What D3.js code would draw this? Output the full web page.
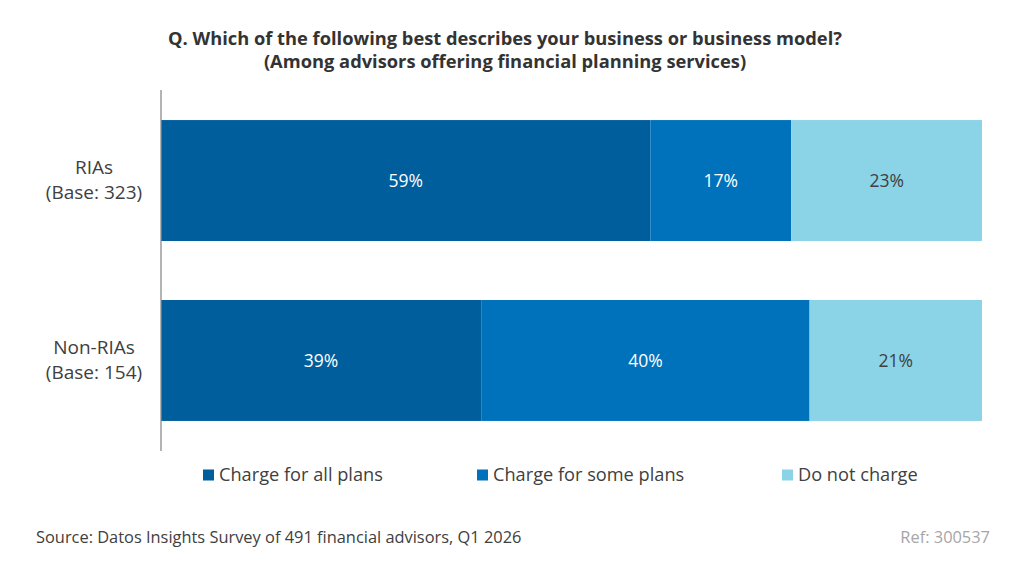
<!DOCTYPE html>
<html>
<head>
<meta charset="utf-8">
<script src="https://cdn.jsdelivr.net/npm/d3@7"></script>
<style>
  body { margin: 0; background: #fff; }
  svg text { font-family: "Open Sans", Lato, sans-serif; }
</style>
</head>
<body>
<div id="chart"></div>
<script>
// data
const groups = ["RIAs", "Non-RIAs"];
const bases = [323, 154];
const seriesNames = ["Charge for all plans", "Charge for some plans", "Do not charge"];
const allPlans = [59, 39];
const somePlans = [17, 40];
const noCharge = [23, 21];
const colors = ["#005e9c", "#0072bb", "#8bd3e6"];

const width = 1024, height = 569;
const margin = {top: 90, left: 161, right: 42, bottom: 118};

const svg = d3.select("#chart").append("svg")
    .attr("width", width)
    .attr("height", height);

/* title */
svg.append("text")
    .attr("x", 505).attr("y", 45)
    .attr("text-anchor", "middle")
    .attr("font-size", 18.3).attr("font-weight", "bold").attr("fill", "#333")
    .text("Q.  Which of the following best describes your business or business model?");
svg.append("text")
    .attr("x", 505).attr("y", 68)
    .attr("text-anchor", "middle")
    .attr("font-size", 18.3).attr("font-weight", "bold").attr("fill", "#333")
    .text("(Among advisors offering financial planning services)");

const rows = groups.map(function(g, i) {
    return {group: g, base: bases[i], values: [allPlans[i], somePlans[i], noCharge[i]]};
});

const xScale = d3.scaleLinear()
    .domain([0, 1])
    .range([margin.left, width - margin.right]);

const yScale = d3.scaleBand()
    .domain(groups)
    .range([margin.top, height - margin.bottom])
    .paddingInner(0.328)
    .paddingOuter(0.167);

/* each row is stacked against its own total */
const rowG = svg.selectAll(".row")
    .data(rows)
    .enter().append("g")
    .attr("class", "row");

rowG.each(function(d) {
    const total = d3.sum(d.values);
    let acc = 0;
    const segs = d.values.map(function(v, k) {
        const s = {v: v, k: k, x0: acc / total, x1: (acc + v) / total};
        acc += v;
        return s;
    });
    const g = d3.select(this);
    g.selectAll("rect")
        .data(segs)
        .enter().append("rect")
        .attr("x", function(s) { return xScale(s.x0); })
        .attr("width", function(s) { return xScale(s.x1) - xScale(s.x0); })
        .attr("y", yScale(d.group))
        .attr("height", yScale.bandwidth())
        .attr("fill", function(s) { return colors[s.k]; });
    g.selectAll("text.val")
        .data(segs)
        .enter().append("text")
        .attr("class", "val")
        .attr("x", function(s) { return (xScale(s.x0) + xScale(s.x1)) / 2; })
        .attr("y", yScale(d.group) + yScale.bandwidth() / 2)
        .attr("dy", "0.35em")
        .attr("text-anchor", "middle")
        .attr("font-size", 17.5)
        .attr("fill", function(s) { return s.k === 2 ? "#404040" : "#fff"; })
        .text(function(s) { return s.v + "%"; });
});

/* category labels */
const labels = svg.selectAll(".cat")
    .data(rows)
    .enter().append("text")
    .attr("class", "cat")
    .attr("text-anchor", "middle")
    .attr("font-size", 19)
    .attr("fill", "#404040")
    .attr("y", function(d) { return yScale(d.group) + yScale.bandwidth() / 2; });
labels.append("tspan")
    .attr("x", 94).attr("dy", "-0.32em")
    .text(function(d) { return d.group; });
labels.append("tspan")
    .attr("x", 94).attr("dy", "1.3em")
    .text(function(d) { return "(Base: " + d.base + ")"; });

/* axis line */
svg.append("line")
    .attr("x1", margin.left).attr("x2", margin.left)
    .attr("y1", margin.top).attr("y2", height - margin.bottom)
    .attr("stroke", "#8c8c8c").attr("stroke-width", 1.3);

/* legend */
const legendX = [203, 477, 782];
const legend = svg.selectAll(".leg")
    .data(seriesNames)
    .enter().append("g")
    .attr("class", "leg")
    .attr("transform", function(d, i) { return `translate(${legendX[i]},475)`; });
legend.append("rect")
    .attr("x", 0).attr("y", -5.5)
    .attr("width", 11).attr("height", 11)
    .attr("fill", function(d, i) { return colors[i]; });
legend.append("text")
    .attr("x", 16).attr("dy", "0.35em")
    .attr("font-size", 18.2)
    .attr("fill", "#404040")
    .text(function(d) { return d; });

/* footer */
svg.append("text")
    .attr("x", 36).attr("y", 543)
    .attr("font-size", 16.4).attr("fill", "#404040")
    .text("Source: Datos Insights Survey of 491 financial advisors, Q1 2026");
svg.append("text")
    .attr("x", 990).attr("y", 543)
    .attr("text-anchor", "end")
    .attr("font-size", 16.4).attr("fill", "#a6a6a6")
    .text("Ref: 300537");
</script>
</body>
</html>
